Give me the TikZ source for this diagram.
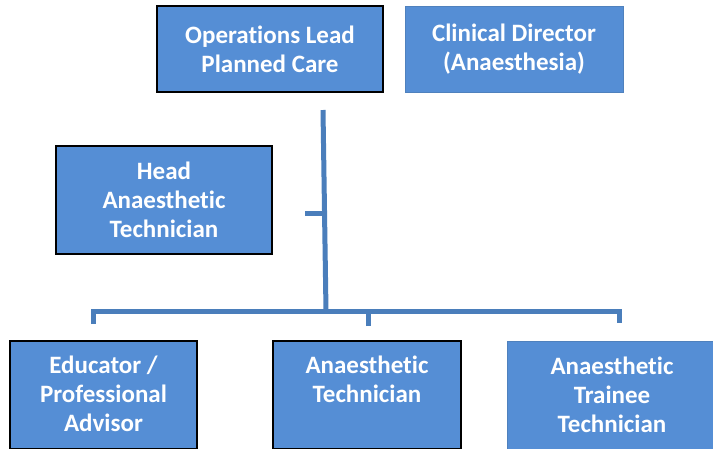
\documentclass[tikz,border=0pt]{standalone}
\usepackage{fontspec}
\setmainfont{Carlito}[Ligatures=NoCommon]
\usetikzlibrary{positioning}

\definecolor{boxblue}{RGB}{85,142,213}
\definecolor{lineblue}{RGB}{74,126,187}
\definecolor{edgeblue}{RGB}{79,129,189}

\begin{document}
\begin{tikzpicture}[x=1pt, y=-1pt,
                    box/.style={rectangle,draw=black,line width=1.6pt,fill=boxblue,
                                text=white,align=center,inner sep=0pt,
                                font=\fontsize{25}{29}\selectfont\bfseries},
                    plain box/.style={box,draw=edgeblue,line width=0.8pt},
                    box text/.style={text=white,align=center,inner sep=0pt,
                                     font=\fontsize{25}{29}\selectfont\bfseries},
                    conn/.style={draw=lineblue,line width=5pt}]

  \useasboundingbox (0,0) rectangle (713,448);
  \clip (0,0) rectangle (713,448);

  % top row
  \node[box,minimum width=226pt,minimum height=86pt] (ops) at (270,49)
    {Operations Lead\\Planned Care};
  \node[plain box,minimum width=218pt,minimum height=86pt] (clin) at (514,49)
    {Clinical Director\\(Anaesthesia)};

  % side box
  \node[box,minimum width=216pt,minimum height=108pt] (head) at (164,200)
    {Head\\Anaesthetic\\Technician};

  % bottom row, text sits at the top of each box
  \node[box,minimum width=187pt,minimum height=108pt] (edu) at (103.5,395) {};
  \node[box,minimum width=188pt,minimum height=108pt] (tech) at (367,395) {};
  \node[plain box,minimum width=210pt,minimum height=108pt] (trainee) at (612,395) {};
  \node[box text,below=16pt of edu.north] (edu text) {Educator /\\Professional\\Advisor};
  \node[box text,below=16pt of tech.north] (tech text) {Anaesthetic\\Technician};
  \node[box text,below=16pt of trainee.north] (trainee text) {Anaesthetic\\Trainee\\Technician};

  % connector ends
  \coordinate (trunk top) at (323,110);
  \coordinate (trunk bottom) at (326,311);
  \coordinate (stub) at (305,213);
  \coordinate (edu drop) at (93.5,324);
  \coordinate (tech drop) at (368,326);
  \coordinate (trainee drop) at (619,323);

  \draw[conn] (trunk top) -- (trunk bottom);
  \draw[conn] (stub) -- (324.5,213);
  \draw[conn] (edu drop) |- (trainee drop |- trunk bottom) -- (trainee drop);
  \draw[conn] (tech drop) -- (tech drop |- trunk bottom);
\end{tikzpicture}
\end{document}
